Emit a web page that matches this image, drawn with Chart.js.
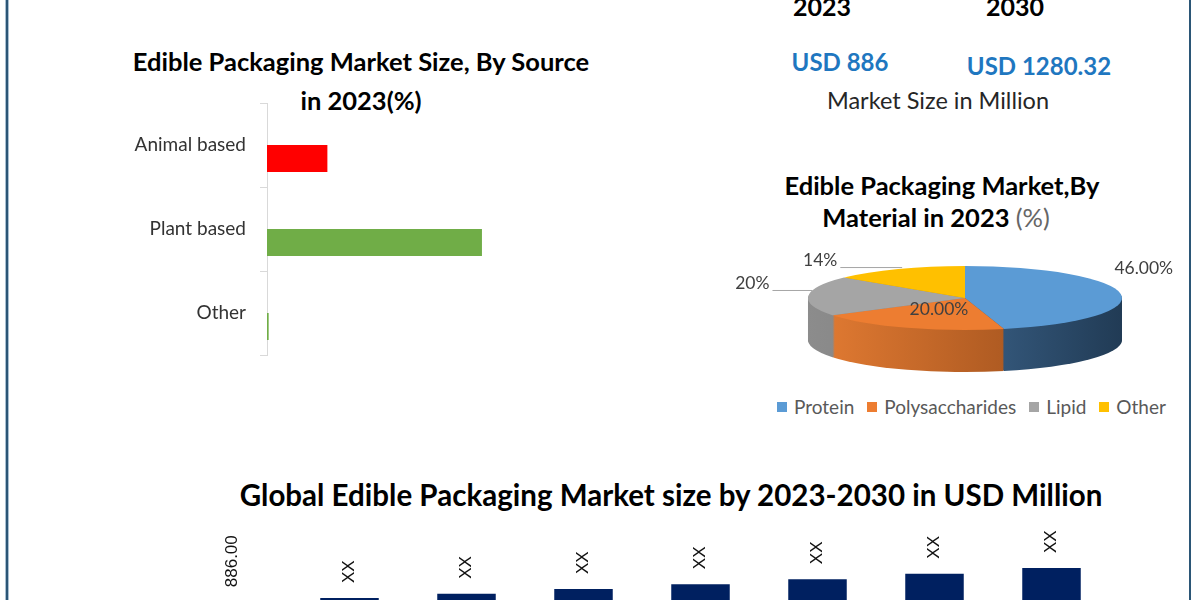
<!DOCTYPE html>
<html>
<head>
<meta charset="utf-8">
<script src="https://cdn.jsdelivr.net/npm/chart.js@4.4.1/dist/chart.umd.min.js"></script>
<style>
  html, body { margin: 0; padding: 0; background: #fff; }
  body { width: 1200px; height: 600px; overflow: hidden; position: relative; font-family: Lato, 'Open Sans', sans-serif; }
  .t { position: absolute; white-space: nowrap; transform: translate(-50%, -50%); line-height: 1; }
  .b { font-weight: bold; color: #000; }
  .usd { font-weight: bold; color: #1f77c0; font-size: 24px; }
  .edge { position: absolute; top: 0; height: 600px; width: 2px; background: #2b5676; }
  canvas { position: absolute; }
  #legend { position: absolute; left: 777px; top: 395px; font-size: 19px; color: #595959; display: flex; align-items: center; white-space: nowrap; }
  #legend span.sw { display: inline-block; width: 10px; height: 10px; margin-right: 7px; }
  #legend span.lb { margin-right: 13px; }
</style>
</head>
<body>
<div class="edge" style="left:6px; box-shadow: 0 0 0 1px #a9c0d2;"></div>
<div class="edge" style="left:1189px;"></div>

<div class="t b" style="left:822px; top:6px; font-size:25px;">2023</div>
<div class="t b" style="left:1015px; top:6px; font-size:25px;">2030</div>
<div class="t usd" style="left:840px; top:62px;">USD 886</div>
<div class="t usd" style="left:1039px; top:66px;">USD 1280.32</div>
<div class="t" style="left:938px; top:101px; font-size:23.5px; color:#262626;">Market Size in Million</div>

<div class="t b" style="left:361px; top:62px; font-size:25.5px;">Edible Packaging Market Size, By Source</div>
<div class="t b" style="left:361px; top:101px; font-size:25.5px;">in 2023(%)</div>

<div class="t b" style="left:942px; top:186px; font-size:25.5px;">Edible Packaging Market,By</div>
<div class="t b" style="left:936px; top:218px; font-size:25.5px;">Material in 2023 <span style="font-weight:normal; color:#666;">(%)</span></div>

<div id="legend"></div>

<div id="bottomTitle" class="t b" style="left:671px; top:494px; font-size:31px;">Global Edible Packaging Market size by 2023-2030 in USD Million</div>

<canvas id="sourceChart" width="444" height="260" style="left:100px; top:100px;"></canvas>
<canvas id="materialChart" width="470" height="330" style="left:720px; top:150px;"></canvas>
<canvas id="marketChart" width="936" height="170" style="left:174px; top:520px;"></canvas>

<script>
// Source share, 2023 (%)
const sourceLabels = ['Animal based', 'Plant based', 'Other'];
const sourceShare = [21.8, 77.6, 0.6];
const sourceColors = ['#FF0000', '#70AD47', '#70AD47'];

// Material share, 2023 (%)
const materialLabels = ['Protein', 'Polysaccharides', 'Lipid', 'Other'];
const materialShare = [46, 20, 20, 14];
const materialText = ['46.00%', '20.00%', '20%', '14%'];
const materialColors = ['#5B9BD5', '#ED7D31', '#A5A5A5', '#FFC000'];
const materialSides = [['#4f80b0', '#213b55'], ['#e47c33', '#8f4718'], ['#8c8c8c', '#6e6e6e'], ['#d9a300', '#b08400']];

// Market size, USD million
const years = ['2023', '2024', '2025', '2026', '2027', '2028', '2029', '2030'];
const marketSize = [886, 934, 984, 1038, 1094, 1152, 1215, 1280.32];
const marketText = ['886.00', 'XX', 'XX', 'XX', 'XX', 'XX', 'XX', 'XX'];

Chart.defaults.animation = false;
Chart.defaults.font.family = "Lato, 'Open Sans', sans-serif";

// legend for the pie
const legend = document.getElementById('legend');
materialLabels.forEach((name, i) => {
  legend.insertAdjacentHTML('beforeend',
    '<span class="sw" style="background:' + materialColors[i] + '"></span><span class="lb">' + name + '</span>');
});

// squeeze the bottom title to its width in the picture
const bt = document.getElementById('bottomTitle');
bt.style.transform = 'translate(-50%,-50%) scaleX(' + (863 / bt.offsetWidth) + ')';

// --- horizontal bars by source ---
new Chart(document.getElementById('sourceChart'), {
  type: 'bar',
  data: {
    labels: sourceLabels,
    datasets: [
      { data: sourceLabels.map(() => null) },
      { data: sourceShare, backgroundColor: sourceColors }
    ]
  },
  options: {
    indexAxis: 'y',
    responsive: false,
    categoryPercentage: 0.643,
    barPercentage: 1,
    layout: { padding: { top: 3, bottom: 5, left: 0, right: 0 } },
    plugins: { legend: { display: false }, tooltip: { enabled: false } },
    scales: {
      x: { display: false, min: 0, max: 100 },
      y: {
        afterFit: s => { s.width = 167; s.paddingTop = 0; s.paddingBottom = 0; },
        grid: { drawOnChartArea: false, tickLength: 7, color: '#d9d9d9' },
        border: { color: '#d9d9d9' },
        ticks: { padding: 14, color: '#333', font: { size: 19 } }
      }
    }
  }
});

// --- 3D-looking pie by material ---
const tilt = 32 / 157;   // vertical squash of the pie
const depth = 42;
const pieCy = 148;       // centre of the top face inside the canvas

function squash(ctx, chart, dy) {
  const arc = chart.getDatasetMeta(0).data[0];
  ctx.translate(0, pieCy + dy);
  ctx.scale(1, tilt);
  ctx.translate(0, -arc.y);
}

const pie3d = {
  id: 'pie3d',
  beforeDatasetsDraw(chart) {
    const ctx = chart.ctx;
    const arcs = chart.getDatasetMeta(0).data;
    const a0 = arcs[0];
    for (let d = depth; d > 0; d--) {
      ctx.save();
      squash(ctx, chart, d);
      arcs.forEach((arc, i) => {
        const g = ctx.createLinearGradient(a0.x - a0.outerRadius, 0, a0.x + a0.outerRadius, 0);
        g.addColorStop(0, materialSides[i][0]);
        g.addColorStop(1, materialSides[i][1]);
        ctx.fillStyle = g;
        ctx.beginPath();
        ctx.moveTo(arc.x, arc.y);
        ctx.arc(arc.x, arc.y, arc.outerRadius, arc.startAngle, arc.endAngle);
        ctx.closePath();
        ctx.fill();
      });
      ctx.restore();
    }
    ctx.save();
    squash(ctx, chart, 0);
  },
  afterDatasetsDraw(chart) {
    const ctx = chart.ctx;
    ctx.restore();
    const layout = [
      { r: 1, dx: 23, dy: -26 },
      { r: 0.45, dx: 0, dy: -2 },
      { r: 1, dx: -56, dy: -13, leader: true },
      { r: 1, dx: -78, dy: -9, leader: true }
    ];
    ctx.font = "17.5px Lato, 'Open Sans', sans-serif";
    ctx.textAlign = 'center';
    ctx.textBaseline = 'middle';
    chart.getDatasetMeta(0).data.forEach((arc, i) => {
      const mid = (arc.startAngle + arc.endAngle) / 2;
      const L = layout[i];
      const px = arc.x + Math.cos(mid) * arc.outerRadius * L.r;
      const py = pieCy + Math.sin(mid) * arc.outerRadius * L.r * tilt;
      const tx = px + L.dx, ty = py + L.dy;
      ctx.fillStyle = '#404040';
      ctx.fillText(materialText[i], tx, ty);
      if (L.leader) {
        const w = ctx.measureText(materialText[i]).width;
        ctx.strokeStyle = '#a6a6a6';
        ctx.lineWidth = 1;
        ctx.beginPath();
        ctx.moveTo(tx + w / 2 + 3, ty + 7.5);
        ctx.lineTo(px + 4, ty + 7.5);
        ctx.stroke();
      }
    });
  }
};

new Chart(document.getElementById('materialChart'), {
  type: 'pie',
  data: {
    labels: materialLabels,
    datasets: [{ data: materialShare, backgroundColor: materialColors, borderWidth: 0, clip: false }]
  },
  options: {
    responsive: false,
    layout: { padding: { left: 88, right: 68, top: 8, bottom: 8 } },
    plugins: { legend: { display: false }, tooltip: { enabled: false } }
  },
  plugins: [pie3d]
});

// --- market size columns ---
const barLabels = {
  id: 'barLabels',
  afterDatasetsDraw(chart) {
    const ctx = chart.ctx;
    ctx.save();
    ctx.font = "17px 'Liberation Sans', Arial, sans-serif";
    ctx.fillStyle = '#111';
    ctx.textAlign = 'left';
    ctx.textBaseline = 'middle';
    chart.getDatasetMeta(0).data.forEach((bar, i) => {
      ctx.save();
      ctx.translate(bar.x, bar.y - 15);
      ctx.rotate(-Math.PI / 2);
      ctx.fillText(marketText[i], 0, 0);
      ctx.restore();
    });
    ctx.restore();
  }
};

new Chart(document.getElementById('marketChart'), {
  type: 'bar',
  data: {
    labels: years,
    datasets: [{ data: marketSize, backgroundColor: '#002060' }]
  },
  options: {
    responsive: false,
    categoryPercentage: 1,
    barPercentage: 0.5,
    layout: { padding: { top: 29, bottom: 11, left: 0, right: 0 } },
    plugins: { legend: { display: false }, tooltip: { enabled: false } },
    scales: {
      x: { display: false },
      y: { display: false, min: 0, max: 1500 }
    }
  },
  plugins: [barLabels]
});
</script>
</body>
</html>
